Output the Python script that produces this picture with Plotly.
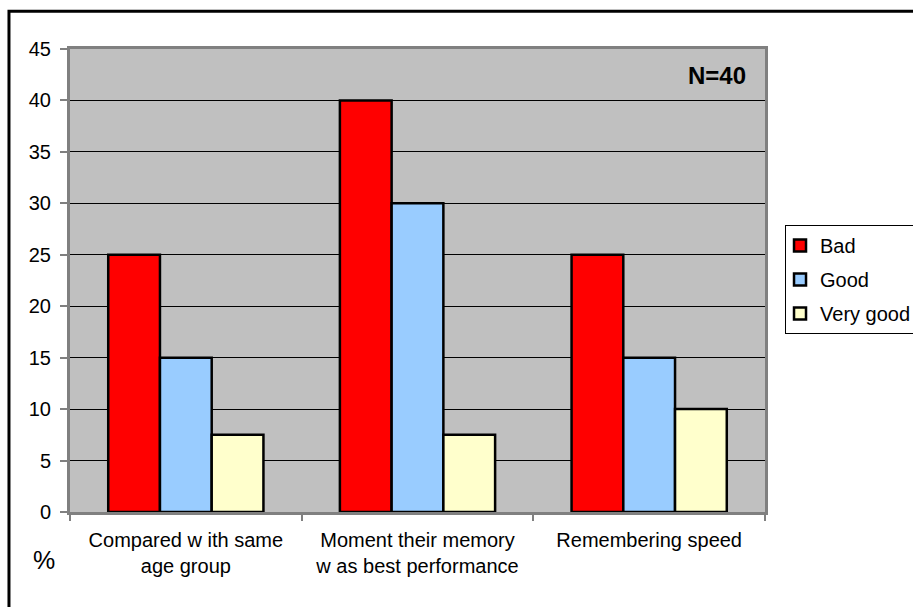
import plotly.graph_objects as go

# Survey of self-rated memory (percent of respondents, N=40)
categories = [
    "Compared w ith same<br>age group",
    "Moment their memory<br>w as best performance",
    "Remembering speed",
]
series_names = ["Bad", "Good", "Very good"]
bad = [25, 40, 25]
good = [15, 30, 15]
very_good = [7.5, 7.5, 10]
colors = ["#ff0000", "#99ccff", "#ffffcc"]

y_ticks = list(range(0, 50, 5))

fig = go.Figure()
for name, vals, col in zip(series_names, [bad, good, very_good], colors):
    fig.add_trace(go.Bar(
        x=categories, y=vals, name=name, legendgroup=name,
        marker=dict(color=col, line=dict(color="black", width=2.5)),
    ))

fig.update_layout(
    width=913, height=607,
    margin=dict(l=70, r=148, t=49, b=95, autoexpand=False),
    paper_bgcolor="white",
    plot_bgcolor="#c0c0c0",
    font=dict(family="Liberation Sans, Arial, sans-serif", size=20, color="black"),
    barmode="group",
    bargap=0.33,
    bargroupgap=0,
    showlegend=True,
    legend=dict(
        x=1.0288, y=0.62, xanchor="left", yanchor="top",
        bordercolor="black", borderwidth=1, bgcolor="white",
        font=dict(size=20), tracegroupgap=5, itemwidth=30,
        traceorder="grouped", indentation=-6,
    ),
    xaxis=dict(
        showgrid=False, showline=True, linecolor="#808080", linewidth=3,
        ticks="outside", tickson="boundaries", ticklen=6, tickcolor="#808080",
        tickwidth=1.5, tickfont=dict(size=20), zeroline=False, mirror=True,
        ticklabelstandoff=8,
    ),
    yaxis=dict(
        range=[0, 45], tickvals=y_ticks, showgrid=True, gridcolor="black",
        gridwidth=1, showline=True, linecolor="#808080", linewidth=3,
        ticks="outside", ticklen=7, tickcolor="#808080", tickwidth=1.5,
        mirror=True, tickfont=dict(size=20), zeroline=False,
        ticklabelstandoff=5,
    ),
    shapes=[
        # outer chart frame
        dict(type="rect", xref="paper", yref="paper",
             x0=-0.0878, x1=1.4, y0=-0.5, y1=1.0815,
             line=dict(color="black", width=3), fillcolor="rgba(0,0,0,0)",
             layer="above"),
    ],
    annotations=[
        dict(text="<b>N=40</b>", xref="paper", yref="paper",
             x=0.9755, y=0.943, xanchor="right", yanchor="middle",
             showarrow=False, font=dict(size=24)),
        dict(text="%", xref="paper", yref="paper",
             x=(44 - 70) / 695, y=(512 - 560) / 463,
             xanchor="center", yanchor="middle",
             showarrow=False, font=dict(size=25)),
    ],
)

fig.write_html("out.html")
